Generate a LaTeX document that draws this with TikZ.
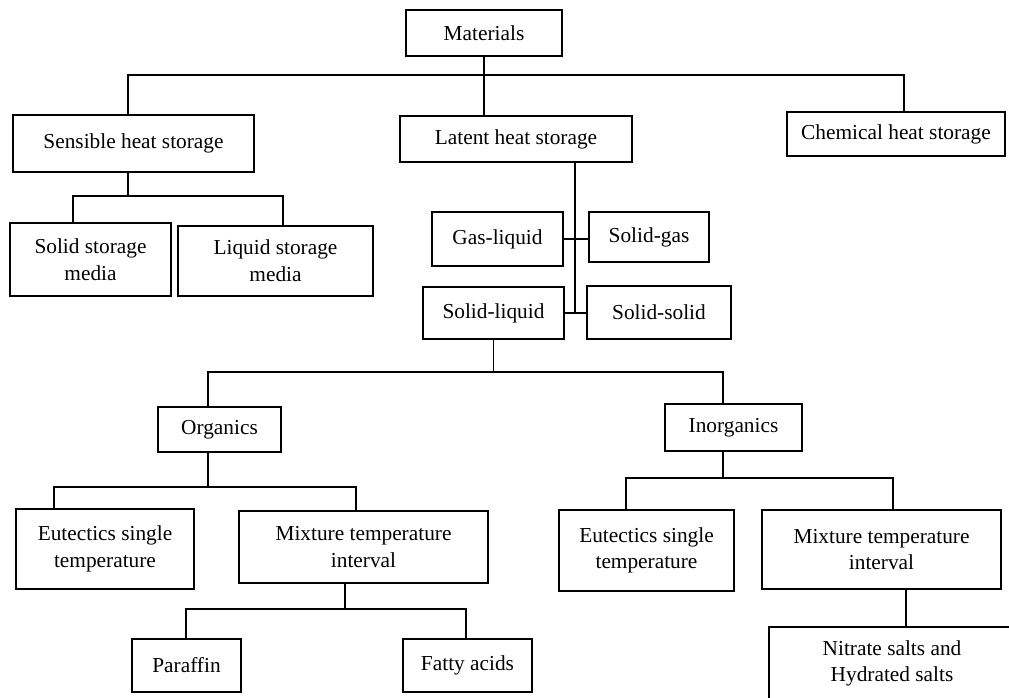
\documentclass[tikz,border=0pt]{standalone}
\usepackage{fontspec}
\setmainfont{Liberation Serif}
\usepackage{tikz}

\begin{document}
\begin{tikzpicture}[x=0.75pt, y=-0.75pt,
  box/.style={draw, line width=1.8pt, inner sep=0pt, align=center,
    font=\fontsize{16}{20}\selectfont},
  wh/.style 2 args={minimum width=#1*0.75pt, minimum height=#2*0.75pt},
  link/.style={line width=1pt}]
  \clip (0,0) rectangle (1009,698);

  \node[box, wh={156}{46}] (mat) at (484,33) {Materials};
  \node[box, wh={241}{57}] (sens) at (133.5,143.5) {Sensible heat storage};
  \node[box, wh={232}{46}] (lat) at (516,139) {Latent heat storage};
  \node[box, wh={218}{44}] (chem) at (896,134) {Chemical heat storage};

  \node[box, wh={161}{73}] (solid) at (90.5,259.5) {Solid storage\\media};
  \node[box, wh={195}{70}] (liq) at (275.5,261) {Liquid storage\\media};

  \node[box, wh={131}{54}] (gasliq) at (497.5,239) {Gas-liquid};
  \node[box, wh={120}{50}] (solgas) at (649,237) {Solid-gas};
  \node[box, wh={141}{52}] (solliq) at (493.5,313) {Solid-liquid};
  \node[box, wh={144}{53}] (solsol) at (659,312.5) {Solid-solid};

  \node[box, wh={123}{45}] (org) at (219.5,429.5) {Organics};
  \node[box, wh={137}{47}] (inorg) at (733.5,427.5) {Inorganics};

  \node[box, wh={178}{80}] (eutL) at (105,549) {Eutectics single\\temperature};
  \node[box, wh={249}{72}] (mixL) at (363.5,547) {Mixture temperature\\interval};
  \node[box, wh={175}{81}] (eutR) at (646.5,550.5) {Eutectics single\\temperature};
  \node[box, wh={239}{79}] (mixR) at (881.5,549.5) {Mixture temperature\\interval};

  \node[box, wh={109}{53}] (par) at (186.5,665.5) {Paraffin};
  \node[box, wh={129}{53}] (fatty) at (467.5,665.5) {Fatty acids};
  \node[box, wh={246}{73}] (nitr) at (892,663.5) {Nitrate salts and\\Hydrated salts};

  % top level
  \coordinate (m1) at (128,75); \coordinate (m2) at (904,75);
  \draw[link] (mat.south) -- (mat.south |- lat.north);
  \draw[link] (m1 |- sens.north) -- (m1) -- (m2) -- (m2 |- chem.north);

  % sensible
  \coordinate (s1) at (73,196); \coordinate (s2) at (283,196);
  \draw[link] (m1 |- sens.south) -- (m1 |- s1);
  \draw[link] (s1 |- solid.north) -- (s1) -- (s2) -- (s2 |- liq.north);

  % latent
  \coordinate (l1) at (575,313);
  \draw[link] (l1 |- lat.south) -- (l1);
  \draw[link] (gasliq.east) -- (gasliq.east -| solgas.west);
  \draw[link] (solliq.east) -- (solliq.east -| solsol.west);

  % solid-liquid
  \coordinate (q1) at (208,372); \coordinate (q2) at (723,372);
  \draw[link] (solliq.south) -- (solliq.south |- q1);
  \draw[link] (q1 |- org.north) -- (q1) -- (q2) -- (q2 |- inorg.north);

  % organics and inorganics
  \coordinate (o1) at (54,487); \coordinate (o2) at (356,487);
  \draw[link] (q1 |- org.south) -- (q1 |- o1);
  \draw[link] (o1 |- eutL.north) -- (o1) -- (o2) -- (o2 |- mixL.north);
  \coordinate (i1) at (626,478); \coordinate (i2) at (893,478);
  \draw[link] (q2 |- inorg.south) -- (q2 |- i1);
  \draw[link] (i1 |- eutR.north) -- (i1) -- (i2) -- (i2 |- mixR.north);

  % mixtures
  \coordinate (p0) at (345,609);
  \coordinate (p1) at (186,609); \coordinate (p2) at (466,609);
  \draw[link] (p0 |- mixL.south) -- (p0);
  \draw[link] (p1 |- par.north) -- (p1) -- (p2) -- (p2 |- fatty.north);
  \coordinate (n0) at (906,627);
  \draw[link] (n0 |- mixR.south) -- (n0 |- nitr.north);
\end{tikzpicture}
\end{document}
